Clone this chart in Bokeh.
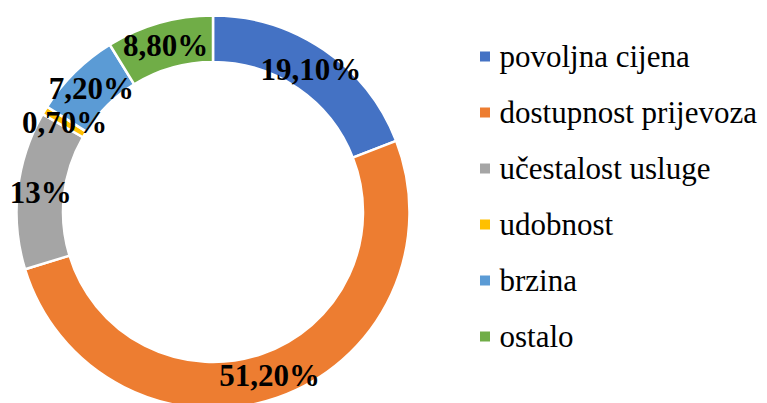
import numpy as np
from bokeh.plotting import figure
from bokeh.models import Range1d
from bokeh.core.properties import value
from bokeh.embed import file_html
from bokeh.resources import INLINE

categories = ["povoljna cijena", "dostupnost prijevoza", "učestalost usluge", "udobnost", "brzina", "ostalo"]
values = [19.1, 51.2, 13.0, 0.7, 7.2, 8.8]
labels = ["19,10%", "51,20%", "13%", "0,70%", "7,20%", "8,80%"]
colors = ["#4472C4", "#ED7D31", "#A5A5A5", "#FFC000", "#5B9BD5", "#70AD47"]

W, H = 767, 403
cx, cy = 212.5, H - 211.5
r_in, r_out = 150.0, 196.5

vals = np.array(values, dtype=float)
frac = vals / vals.sum()
cum_end = np.cumsum(frac)
cum_start = cum_end - frac
start_ang = np.pi / 2 - 2 * np.pi * cum_start
end_ang = np.pi / 2 - 2 * np.pi * cum_end
mid = np.pi / 2 - 2 * np.pi * (cum_start + cum_end) / 2
r_mid = (r_in + r_out) / 2
lx = cx + r_mid * np.cos(mid)
ly = cy + r_mid * np.sin(mid)

p = figure(width=W, height=H, x_range=Range1d(0, W), y_range=Range1d(0, H),
           output_backend="svg", toolbar_location=None, min_border=0)
p.axis.visible = False
p.grid.visible = False
p.outline_line_color = None

p.annular_wedge(x=[cx] * len(vals), y=[cy] * len(vals), inner_radius=r_in, outer_radius=r_out,
                start_angle=list(start_ang), end_angle=list(end_ang), direction="clock",
                fill_color=colors, line_color="white", line_width=2.5)
for i in range(len(labels)):
    p.text(x=[lx[i]], y=[ly[i]], text=[labels[i]], text_font=value("Times New Roman"),
           text_font_style="bold", text_font_size="31px", text_align="center",
           text_baseline="middle", text_color="black")

leg_y = [H - (56 + 56 * i) for i in range(len(categories))]
p.rect(x=[484.5] * len(categories), y=leg_y, width=10, height=10, fill_color=colors, line_color=None)
for i in range(len(categories)):
    p.text(x=[499], y=[leg_y[i]], text=[categories[i]], text_font=value("Times New Roman"),
           text_font_size="31px", text_align="left", text_baseline="middle", text_color="black")

open("out.html", "w").write(file_html(p, INLINE))
